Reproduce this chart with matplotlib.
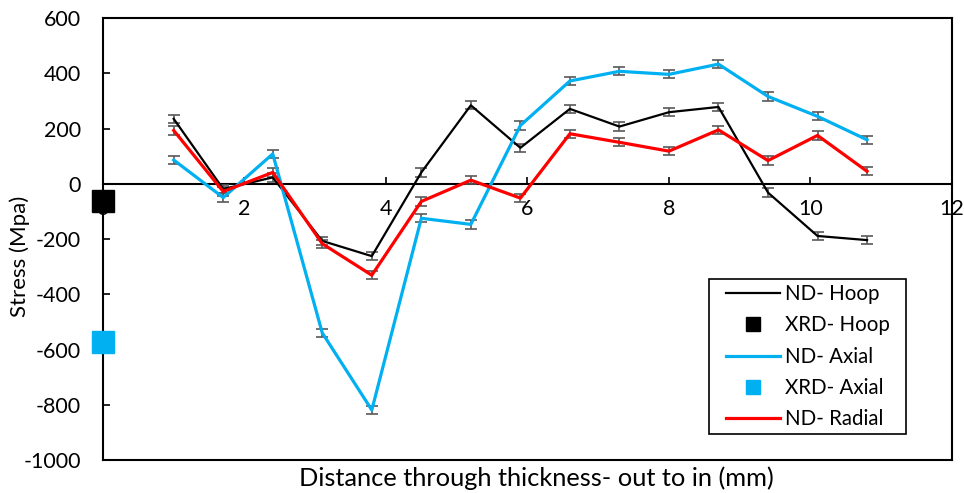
import matplotlib
matplotlib.use('Agg')
import matplotlib.pyplot as plt
from matplotlib.patches import Rectangle

# distance through thickness (mm)
dist = [1.0, 1.7, 2.4, 3.1, 3.8, 4.5, 5.2, 5.9, 6.6, 7.3, 8.0, 8.7, 9.4, 10.1, 10.8]

nd_hoop = [235, -19, 23, -207, -262, 41, 284, 130, 271, 207, 259, 278, -32, -189, -204]
nd_axial = [86, -50, 108, -540, -819, -125, -147, 211, 372, 407, 396, 433, 316, 244, 159]
nd_radial = [193, -28, 41, -217, -331, -64, 13, -52, 181, 150, 118, 195, 84, 175, 45]
err = [15] * len(dist)

xrd_x = [0]
xrd_hoop = [-64]
xrd_axial = [-573]

plt.rcParams['font.family'] = ['Lato', 'DejaVu Sans']
plt.rcParams['font.size'] = 15.5
plt.rcParams['axes.unicode_minus'] = False

fig = plt.figure(figsize=(9.64, 4.93), dpi=100)
ax = fig.add_axes([0.1068, 0.0669, 0.8807, 0.8966])

blue = '#00B0F0'
ebc = '#595959'

h1 = ax.errorbar(dist, nd_hoop, yerr=err, color='black', lw=1.6, ecolor=ebc,
                 elinewidth=1.2, capsize=4.5, capthick=1.2, zorder=4)
h2, = ax.plot(xrd_x, xrd_hoop, 's', color='black', ms=16, clip_on=False, zorder=6)
h3 = ax.errorbar(dist, nd_axial, yerr=err, color=blue, lw=2.3, ecolor=ebc,
                 elinewidth=1.2, capsize=4.5, capthick=1.2, zorder=4)
h4, = ax.plot(xrd_x, xrd_axial, 's', color=blue, ms=16, clip_on=False, zorder=6)
h5 = ax.errorbar(dist, nd_radial, yerr=err, color='red', lw=2.3, ecolor=ebc,
                 elinewidth=1.2, capsize=4.5, capthick=1.2, zorder=4)

ax.set_xlim(0, 12)
ax.set_ylim(-1000, 600)
ax.set_xticks(range(0, 13, 2))
ax.set_yticks(range(-1000, 601, 200))

for s in ['left', 'right', 'top', 'bottom']:
    ax.spines[s].set_linewidth(1.5)
ax.spines['bottom'].set_position(('data', 0))
ax.axhline(-1000, color='black', lw=1.5, clip_on=False, zorder=5)

ax.tick_params(axis='y', direction='in', length=5, width=1.2, pad=16)
ax.tick_params(axis='x', direction='in', length=5, width=1.2, pad=11)

ax.set_ylabel('Stress (Mpa)', fontsize=16)
ax.yaxis.set_label_coords(-0.086, 0.46)
ax.set_xlabel('Distance through thickness- out to in (mm)', fontsize=18.3)
ax.xaxis.set_label_coords(0.511, -0.014)

# legend box
ax.add_patch(Rectangle((0.714, 0.0588), 0.2318, 0.3507, transform=ax.transAxes,
                       facecolor='white', edgecolor='black', lw=1.2, zorder=7))
handles = [h1[0], h2, h3[0], h4, h5[0]]
labels = ['ND- Hoop', 'XRD- Hoop', 'ND- Axial', 'XRD- Axial', 'ND- Radial']
leg = ax.legend(handles, labels, loc='upper left', bbox_to_anchor=(0.734, 0.398),
                borderaxespad=0, borderpad=0, frameon=False,
                markerscale=0.6, handlelength=2.6, handletextpad=0.25,
                labelspacing=0.55, fontsize=14.8)
leg.set_zorder(8)

fig.savefig('out.png', dpi=100)
